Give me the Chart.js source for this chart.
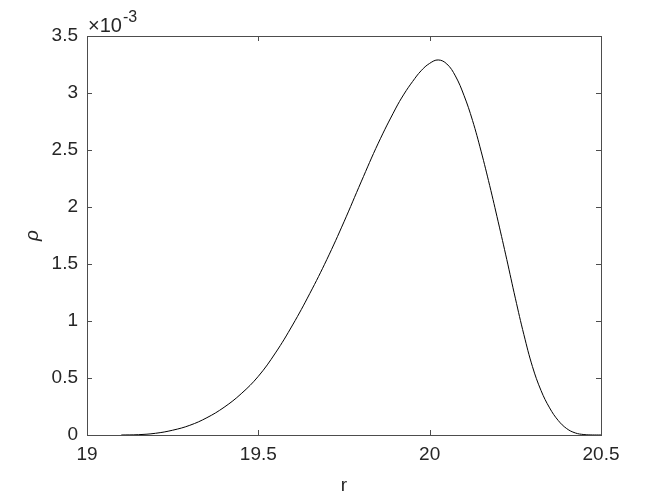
<!DOCTYPE html>
<html>
<head>
<meta charset="utf-8">
<script src="https://cdn.jsdelivr.net/npm/chart.js@4.4.0/dist/chart.umd.min.js"></script>
<style>
  html, body { margin: 0; padding: 0; background: #fff; }
  #wrap { width: 664px; height: 498px; }
</style>
</head>
<body>
<div id="wrap"><canvas id="rhoChart" width="664" height="498"></canvas></div>
<script>
// radius values (r)
const rValues = [19.10, 19.15, 19.20, 19.25, 19.30, 19.35, 19.40, 19.45, 19.50, 19.55,
                 19.60, 19.65, 19.70, 19.75, 19.80, 19.85, 19.90, 19.925, 19.95, 19.975,
                 20.00, 20.025, 20.05, 20.075, 20.10, 20.125, 20.15, 20.175, 20.20, 20.225,
                 20.25, 20.275, 20.30, 20.325, 20.35, 20.375, 20.40, 20.425, 20.45, 20.475,
                 20.50];
// density, in units of 1e-3
const rhoValues = [0.000, 0.003, 0.015, 0.042, 0.085, 0.152, 0.243, 0.362, 0.515, 0.720,
                   0.965, 1.240, 1.540, 1.870, 2.220, 2.560, 2.860, 2.990, 3.100, 3.195,
                   3.260, 3.290, 3.255, 3.150, 2.980, 2.760, 2.490, 2.190, 1.870, 1.540,
                   1.200, 0.880, 0.600, 0.390, 0.238, 0.128, 0.056, 0.018, 0.004, 0.0005,
                   0.000];
const xTicks = [19, 19.5, 20, 20.5];
const yTicks = [0, 0.5, 1, 1.5, 2, 2.5, 3, 3.5];

const FONT = "'Liberation Sans', Arial, sans-serif";

// matlab style box, inward ticks, exponent and axis labels
const matlabAxes = {
    id: 'matlabAxes',
    afterDraw(chart) {
        const ctx = chart.ctx;
        const a = chart.chartArea;
        const xs = chart.scales.x;
        const ys = chart.scales.y;
        ctx.save();
        ctx.strokeStyle = '#4d4d4d';
        ctx.lineWidth = 1;
        ctx.strokeRect(Math.round(a.left) + 0.5, Math.round(a.top) + 0.5,
                       Math.round(a.right - a.left), Math.round(a.bottom - a.top));
        ctx.beginPath();
        xTicks.forEach(function (v) {
            const px = Math.round(xs.getPixelForValue(v)) + 0.5;
            ctx.moveTo(px, a.bottom); ctx.lineTo(px, a.bottom - 5);
            ctx.moveTo(px, a.top); ctx.lineTo(px, a.top + 5);
        });
        yTicks.forEach(function (v) {
            const py = Math.round(ys.getPixelForValue(v)) + 0.5;
            ctx.moveTo(a.left, py); ctx.lineTo(a.left + 5, py);
            ctx.moveTo(a.right, py); ctx.lineTo(a.right - 5, py);
        });
        ctx.stroke();

        ctx.fillStyle = '#262626';
        // x10^-3
        ctx.textBaseline = 'alphabetic';
        ctx.textAlign = 'left';
        ctx.font = '20px ' + FONT;
        ctx.fillText('\u00d710', 88, 32);
        const w = ctx.measureText('\u00d710').width;
        ctx.font = '16px ' + FONT;
        ctx.fillText('-3', 88 + w + 1, 22);

        // x label
        ctx.font = '19px ' + FONT;
        ctx.textAlign = 'center';
        ctx.textBaseline = 'middle';
        ctx.fillText('r', (a.left + a.right) / 2, 486);

        // y label
        ctx.translate(33, (a.top + a.bottom) / 2);
        ctx.rotate(-Math.PI / 2);
        ctx.font = 'italic 19px ' + FONT;
        ctx.fillText('\u03c1', 0, 0);
        ctx.restore();
    }
};

new Chart(document.getElementById('rhoChart'), {
    type: 'line',
    data: {
        datasets: [{
            data: rValues.map(function (r, i) { return { x: r, y: rhoValues[i] }; }),
            borderColor: '#000000',
            borderWidth: 1,
            pointRadius: 0,
            fill: false,
            tension: 0.4
        }]
    },
    options: {
        responsive: false,
        animation: false,
        layout: { padding: { left: 0, right: 63, top: 36, bottom: 0 } },
        plugins: { legend: { display: false }, tooltip: { enabled: false } },
        scales: {
            x: {
                type: 'linear',
                min: 19, max: 20.5,
                afterBuildTicks: function (s) { s.ticks = xTicks.map(function (v) { return { value: v }; }); },
                afterFit: function (s) { s.height = 63; },
                grid: { display: false, drawTicks: false },
                border: { display: false },
                ticks: {
                    padding: 8,
                    color: '#262626',
                    font: { family: FONT, size: 19 },
                    maxRotation: 0,
                    callback: function (v) { return String(v); }
                }
            },
            y: {
                min: 0, max: 3.5,
                afterBuildTicks: function (s) { s.ticks = yTicks.map(function (v) { return { value: v }; }); },
                afterFit: function (s) { s.width = 87; },
                grid: { display: false, drawTicks: false },
                border: { display: false },
                ticks: {
                    padding: 9,
                    color: '#262626',
                    font: { family: FONT, size: 19 },
                    callback: function (v) { return String(v); }
                }
            }
        }
    },
    plugins: [matlabAxes]
});
</script>
</body>
</html>
